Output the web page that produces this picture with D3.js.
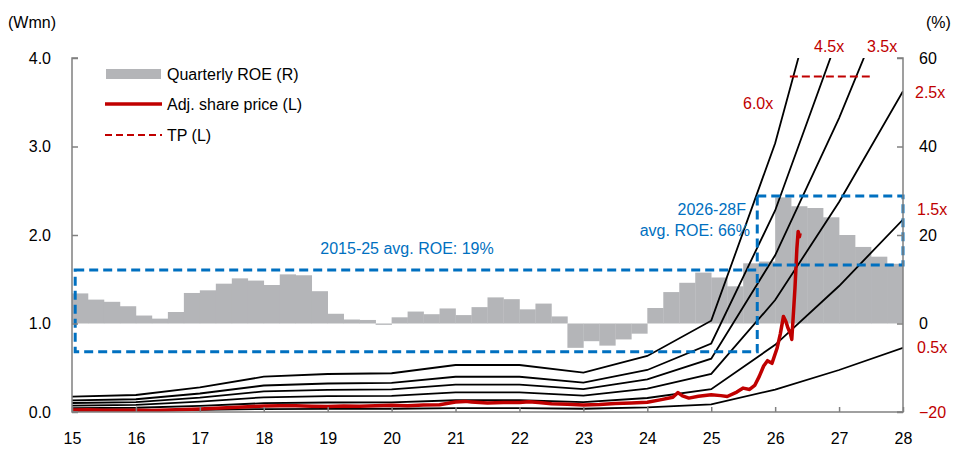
<!DOCTYPE html>
<html><head><meta charset="utf-8">
<script src="https://cdn.jsdelivr.net/npm/d3@7"></script>
<style>
body{margin:0;background:#fff;}
svg{display:block;font-family:"Liberation Sans",Arial,sans-serif;}
</style></head>
<body><svg id="c" width="962" height="450"></svg>
<script>
// ---- data ----
const years = [15,16,17,18,19,20,21,22,23,24,25,26,27,28];
const bps = [0.029,0.032,0.0465,0.0665,0.0716,0.073,0.0885,0.0885,0.074,0.1055,0.172,0.506,0.949,1.45]; // Wmn per share (book value)
const multiples = [0.5,1.5,2.5,3.5,4.5,6.0];
const multipleLabels = ["0.5x","1.5x","2.5x","3.5x","4.5x","6.0x"];
// quarterly ROE (%) 1Q15 .. 4Q28
const roe = [6.8,5.4,4.9,3.9, 1.8,1.1,2.6,6.9, 7.5,9.0,10.2,9.7, 8.7,11.1,10.9,7.3,
             2.2,0.9,0.8,-0.3, 1.4,2.7,2.1,3.4, 1.9,3.7,5.9,5.5, 3.2,4.5,1.6,-5.5,
             -4.0,-5.0,-3.6,-2.3, 3.5,7.1,9.2,11.5, 10.4,8.4,13.6,14.0,
             28.5,26.5,26.1,24.0, 20.0,17.3,15.1,13.5];
// adjusted share price (Wmn), time in decimal years
const priceT = [15.0,15.25,15.5,15.75,16.0,16.25,16.5,16.75,17.0,17.25,17.5,17.75,18.0,18.25,18.5,18.75,
  19.0,19.25,19.5,19.75,20.0,20.25,20.5,20.75,21.0,21.15,21.25,21.5,21.75,22.0,22.15,22.3,22.5,22.75,
  23.0,23.25,23.5,23.75,24.0,24.2,24.4,24.48,24.55,24.65,24.8,25.0,25.15,25.25,25.4,25.5,25.6,25.68,
  25.75,25.82,25.88,25.95,26.03,26.08,26.13,26.17,26.2,26.24,26.26,26.28,26.31,26.34,26.36,26.38,26.39];
const priceV = [0.024,0.026,0.021,0.020,0.020,0.018,0.022,0.028,0.034,0.042,0.052,0.060,0.068,0.070,0.072,0.066,
  0.062,0.068,0.064,0.070,0.076,0.070,0.078,0.082,0.112,0.120,0.114,0.102,0.107,0.107,0.117,0.107,0.092,0.087,
  0.080,0.084,0.097,0.102,0.110,0.137,0.167,0.220,0.182,0.157,0.177,0.195,0.185,0.175,0.225,0.270,0.255,0.300,
  0.400,0.520,0.580,0.550,0.720,0.880,1.080,1.020,0.950,0.880,0.820,1.050,1.400,1.850,2.040,1.980,2.020];
const tpValue = 3.79, tpFrom = 26.23, tpTo = 27.48;
const leftTicks = [0,1,2,3,4];
const rightTicks = [-20,0,20,40,60];
const boxes = [ {x0:15.05,x1:25.72,r0:-6.4,r1:12.1}, {x0:25.72,x1:28.0,r0:13.2,r1:28.8} ];

// ---- layout ----
const W=962,H=450, L=72, R=903, T=58, B=412;
const svg = d3.select("#c");
const x = d3.scaleLinear().domain([15,28]).range([L,R]);
const yL = d3.scaleLinear().domain([0,4]).range([B,T]);
const yR = d3.scaleLinear().domain([-20,60]).range([B,T]);
const red="#C00000", blue="#0070C0", grey="#B4B5B8", axisC="#808080";

svg.append("clipPath").attr("id","clip").append("rect").attr("x",L).attr("y",T).attr("width",R-L).attr("height",B-T);
const g = svg.append("g").attr("clip-path","url(#clip)");

// bars
g.selectAll("rect.bar").data(roe).join("rect").attr("class","bar")
  .attr("x",(d,i)=>x(15+i/4)).attr("width",(d,i)=>x(15+(i+1)/4)-x(15+i/4)+0.3)
  .attr("y",d=>yR(Math.max(0,d))).attr("height",d=>Math.abs(yR(d)-yR(0)))
  .attr("fill",grey);

// band lines
const line = d3.line().x(d=>x(d[0])).y(d=>yL(d[1]));
multiples.forEach(m=>{
  g.append("path").datum(years.map((y,i)=>[y,m*bps[i]]))
   .attr("d",line).attr("fill","none").attr("stroke","#000").attr("stroke-width",1.8);
});

// price
g.append("path").datum(priceT.map((t,i)=>[t,priceV[i]])).attr("d",line)
  .attr("fill","none").attr("stroke",red).attr("stroke-width",3.5).attr("stroke-linejoin","round");

// TP
svg.append("line").attr("x1",x(tpFrom)).attr("x2",x(tpTo)).attr("y1",yL(tpValue)).attr("y2",yL(tpValue))
  .attr("stroke",red).attr("stroke-width",2).attr("stroke-dasharray","8,4");

// boxes
boxes.forEach(b=>{
  svg.append("rect").attr("x",x(b.x0)).attr("y",yR(b.r1)).attr("width",x(b.x1)-x(b.x0)).attr("height",yR(b.r0)-yR(b.r1))
    .attr("fill","none").attr("stroke",blue).attr("stroke-width",3).attr("stroke-dasharray","9,5");
});

// axes
const ax = svg.append("g").attr("transform",`translate(0,${B})`)
  .call(d3.axisBottom(x).tickValues(years).tickSize(-5).tickPadding(21).tickFormat(d3.format("d")));
const axL = svg.append("g").attr("transform",`translate(${L},0)`)
  .call(d3.axisLeft(yL).tickValues(leftTicks).tickSize(-6).tickPadding(21).tickFormat(d3.format(".1f")));
const axR = svg.append("g").attr("transform",`translate(${R},0)`)
  .call(d3.axisRight(yR).tickValues(rightTicks).tickSize(-6).tickPadding(16).tickFormat(d3.format("d")));
[ax,axL,axR].forEach(a=>{
  a.select(".domain").attr("stroke",axisC).attr("stroke-width",1.5);
  a.selectAll(".tick line").attr("stroke",axisC).attr("stroke-width",1.5);
  a.selectAll("text").attr("font-size",16).attr("fill","#000").attr("font-family","Liberation Sans, Arial, sans-serif");
});
axR.selectAll(".domain").attr("d",`M-6,${T}H0V${B}H-6`);
axL.selectAll(".domain").attr("d",`M6,${T}H0V${B}H6`);
ax.select(".domain").attr("d",`M${L},0H${R}`);
axR.selectAll(".tick text").filter(d=>d===-20).attr("fill",red);

// unit labels
svg.append("text").attr("x",8).attr("y",28).attr("font-size",16).text("(Wmn)");
svg.append("text").attr("x",926).attr("y",28).attr("font-size",16).text("(%)");

// multiple labels
const labPos = {"0.5x":[917,353],"1.5x":[917,215],"2.5x":[915,98],"3.5x":[867,52],"4.5x":[814,52],"6.0x":[743,109]};
multipleLabels.forEach(l=>{
  svg.append("text").attr("x",labPos[l][0]).attr("y",labPos[l][1]).attr("font-size",16).attr("fill",red).text(l);
});

// box annotations
svg.append("text").attr("x",407).attr("y",254).attr("text-anchor","middle").attr("font-size",16).attr("fill",blue).text("2015-25 avg. ROE: 19%");
svg.append("text").attr("x",746).attr("y",215).attr("text-anchor","end").attr("font-size",16).attr("fill",blue).text("2026-28F");
svg.append("text").attr("x",750).attr("y",236).attr("text-anchor","end").attr("font-size",16).attr("fill",blue).text("avg. ROE: 66%");

// legend
const lg = svg.append("g");
lg.append("rect").attr("x",106).attr("y",69).attr("width",55).attr("height",10).attr("fill",grey);
lg.append("text").attr("x",167).attr("y",80).attr("font-size",16).text("Quarterly ROE (R)");
lg.append("line").attr("x1",105).attr("x2",162).attr("y1",104).attr("y2",104).attr("stroke",red).attr("stroke-width",3.5);
lg.append("text").attr("x",167).attr("y",110).attr("font-size",16).text("Adj. share price (L)");
lg.append("line").attr("x1",105).attr("x2",162).attr("y1",135).attr("y2",135).attr("stroke",red).attr("stroke-width",2).attr("stroke-dasharray","7,4");
lg.append("text").attr("x",167).attr("y",141).attr("font-size",16).text("TP (L)");
</script></body></html>
